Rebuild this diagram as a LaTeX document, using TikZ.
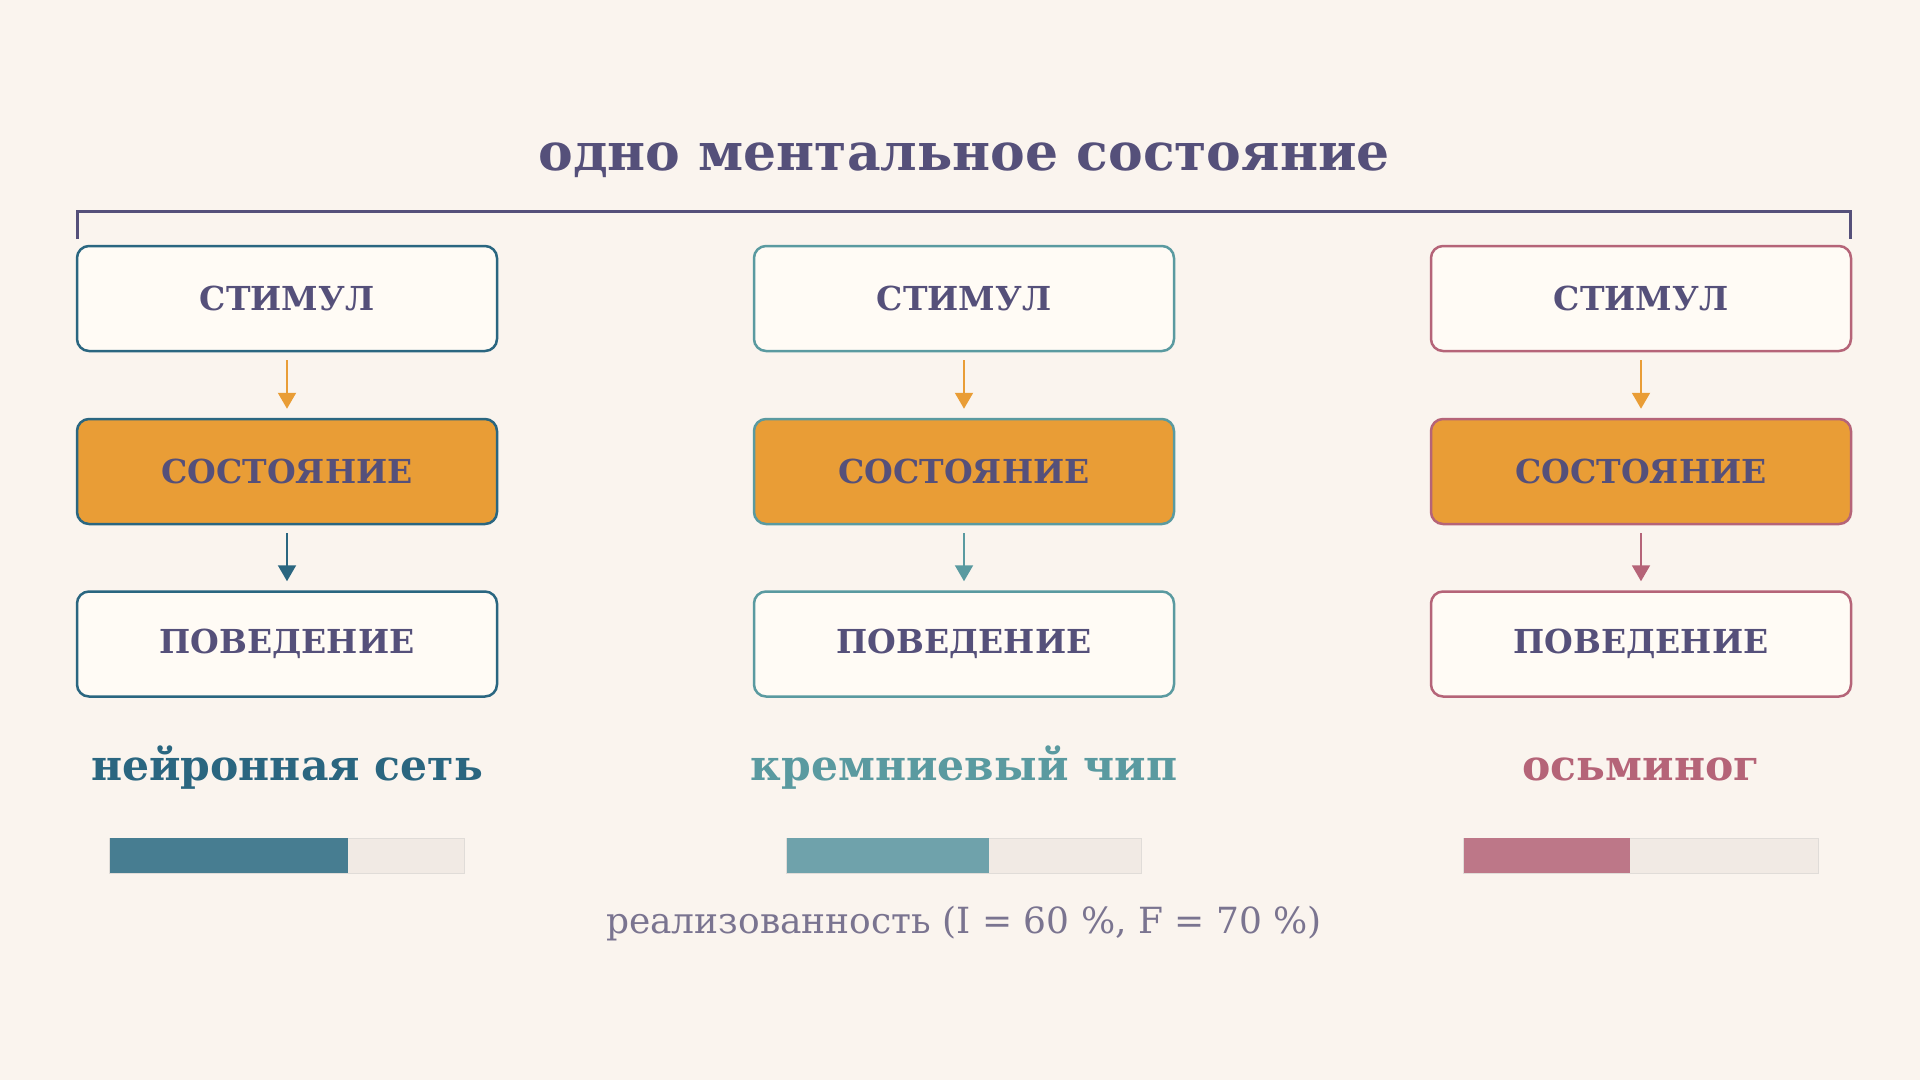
\documentclass[tikz,border=0pt]{standalone}
\usepackage{fontspec}
\setmainfont{DejaVu Serif}
\usetikzlibrary{arrows.meta}
\definecolor{bgc}{HTML}{FAF4EE}
\definecolor{titc}{HTML}{55507A}
\definecolor{colA}{HTML}{2A6680}
\definecolor{colB}{HTML}{5A9AA0}
\definecolor{colC}{HTML}{B56478}
\definecolor{orng}{HTML}{E99D36}
\definecolor{boxf}{HTML}{FFFBF5}
\definecolor{barA}{HTML}{477D91}
\definecolor{barB}{HTML}{6FA2AB}
\definecolor{barC}{HTML}{BD7788}
\definecolor{barbg}{HTML}{F1EAE4}
\definecolor{barln}{HTML}{E0DCD8}
\definecolor{capc}{HTML}{7A7490}
\tikzset{
  stepbox/.style={draw=#1, line width=2.5pt, rounded corners=12pt, fill=boxf,
    minimum width=420pt, minimum height=105pt, inner sep=0pt,
    font=\fontsize{33}{40}\selectfont\bfseries, text=titc},
  statebox/.style={stepbox=#1, fill=orng},
  arr/.style={draw=#1, line width=2pt, -{Triangle[width=18pt,length=16pt]},
    shorten <=8pt, shorten >=9pt},
  lbl/.style={font=\fontsize{42.5}{48}\selectfont\bfseries, text=#1, anchor=base},
}
\begin{document}
\begin{tikzpicture}[x=1pt,y=-1pt]
\fill[bgc] (0,0) rectangle (1920,1080);
\useasboundingbox (0,0) rectangle (1920,1080);
\node[font=\fontsize{52}{60}\selectfont\bfseries, text=titc, anchor=base] (title) at (964,170) {одно ментальное состояние};
\coordinate (bl) at (77,239);
\coordinate (br) at (1850,239);
\draw[titc, line width=3pt] (bl) -- (77,211) -- (1850,211) -- (br);
\foreach \c/\x/\col/\bar/\frac/\name in {A/287/colA/barA/0.673/нейронная сеть, B/964/colB/barB/0.57/кремниевый чип, C/1641/colC/barC/0.47/осьминог}{
  \node[stepbox=\col] (s\c) at (\x,298.5) {СТИМУЛ};
  \node[statebox=\col] (m\c) at (\x,471.5) {СОСТОЯНИЕ};
  \node[stepbox=\col] (p\c) at (\x,644) {ПОВЕДЕНИЕ};
  \draw[arr=orng] (s\c.south) -- (m\c.north);
  \draw[arr=\col] (m\c.south) -- (p\c.north);
  \node[lbl=\col] (l\c) at (\x,780) {\name};
  \fill[barbg] (\x-177.5,838) rectangle (\x+177.5,873);
  \draw[barln, line width=1pt] (\x-177.5,838) rectangle (\x+177.5,873);
  \fill[\bar] (\x-177.5,838) rectangle (\x-177.5+355*\frac,873);
}
\node[font=\fontsize{36}{40}\selectfont, text=capc, anchor=base] (cap) at (964,933) {реализованность (I = 60~\%, F = 70~\%)};
\end{tikzpicture}
\end{document}
